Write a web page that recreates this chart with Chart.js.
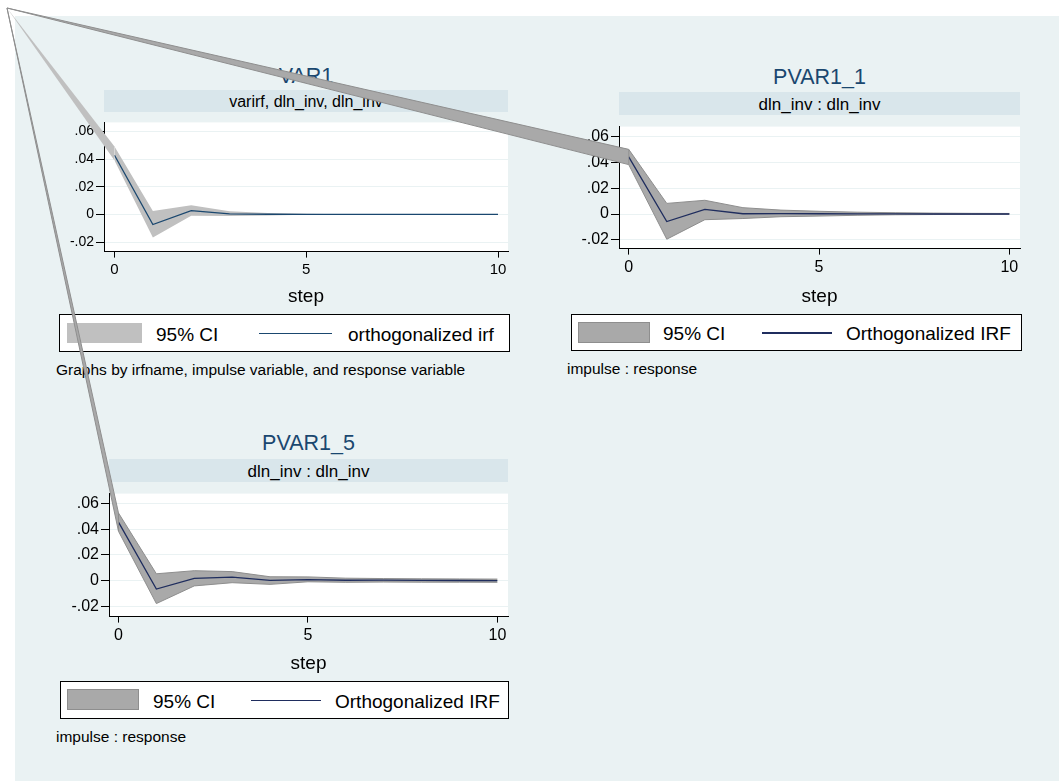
<!DOCTYPE html>
<html><head><meta charset="utf-8">
<script src="https://cdn.jsdelivr.net/npm/chart.js@4.4.1/dist/chart.umd.min.js"></script>
<style>
html,body{margin:0;padding:0;background:#fff;}
#page{position:relative;width:1059px;height:781px;overflow:hidden;font-family:"Liberation Sans",Arial,sans-serif;}
#bg{position:absolute;left:15px;top:16px;right:0;bottom:0;background:#EAF2F3;}
.abs{position:absolute;white-space:nowrap;}
canvas{position:absolute;}
</style></head><body><div id="page"><div id="bg"></div></div>
<script>
// ---------- data ----------
const steps = [0,1,2,3,4,5,6,7,8,9,10];
const xTickValues = [0,5,10];
const yTickValues = [-0.02,0,0.02,0.04,0.06];
const yTickLabels = ['-.02','0','.02','.04','.06'];
const panelTitles = ['VAR1','PVAR1_1','PVAR1_5'];
const panelSubtitles = ['varirf, dln_inv, dln_inv','dln_inv : dln_inv','dln_inv : dln_inv'];
const ciLabels = ['95% CI','95% CI','95% CI'];
const irfLabels = ['orthogonalized irf','Orthogonalized IRF','Orthogonalized IRF'];
const panelNotes = ['Graphs by irfname, impulse variable, and response variable','impulse : response','impulse : response'];
const xAxisTitle = 'step';

const var1Irf   = [0.0427,-0.0073,0.0027,0.0004,0.0001,0,0,0,0,0,0];
const var1Upper = [0.0490, 0.0025,0.0067,0.0022,0.0011,0.0004,0.0002,0.0001,0,0,0];
const var1Lower = [0.0390,-0.0167,-0.0010,-0.0011,-0.0007,-0.0002,-0.0001,0,0,0,0];

const pvar11Irf   = [0.0442,-0.0058,0.0035,0.0002,0.0003,0.0002,0.0001,0.0001,0,0,0];
const pvar11Upper = [0.0500, 0.0082,0.0106,0.0049,0.0030,0.0021,0.0014,0.0010,0.0007,0.0005,0.0004];
const pvar11Lower = [0.0382,-0.0195,-0.0044,-0.0035,-0.0021,-0.0016,-0.0010,-0.0006,-0.0004,-0.0003,-0.0002];

const pvar15Irf   = [0.0455,-0.0064,0.0019,0.0028,0.0003,0.0009,0.0004,0.0005,0.0003,0.0002,0.0001];
const pvar15Upper = [0.0526, 0.0054,0.0078,0.0071,0.0031,0.0030,0.0020,0.0017,0.0015,0.0014,0.0013];
const pvar15Lower = [0.0384,-0.0177,-0.0040,-0.0015,-0.0028,-0.0008,-0.0012,-0.0010,-0.0011,-0.0011,-0.0012];

// ---------- layout / style ----------
const FONT = '"Liberation Sans", Arial, sans-serif';
const page = document.getElementById('page');
const layout = [
  {plotL:104,plotT:112,plotR:508,plotB:252,stripT:90,titleY:77,xMin:-0.274,xMax:10.26,yMin:-0.02687,yMax:0.06647,
   tickGap:3,xAxisH:56.4,xTickSize:15,yTickSize:14,stripSize:16,
   leg:{l:59,t:314,r:510,b:352,sw:[67,142,323,343],ciX:156,line:[259,332],labX:348},noteX:56,noteY:370,
   line:'#1A476F',ciFill:'#C0C0C0',ciBorder:'#C0C0C0',ciBW:0},
  {plotL:619,plotT:115,plotR:1020,plotB:249,stripT:92,titleY:77.5,xMin:-0.255,xMax:10.28,yMin:-0.02676,yMax:0.0676,
   tickGap:3,xAxisH:59.4,xTickSize:16,yTickSize:16,stripSize:17,
   leg:{l:571,t:314,r:1022,b:351,sw:[578,650,322,343],ciX:663,line:[762,832],labX:846},noteX:567,noteY:369,
   line:'#1F2D5E',ciFill:'#A9A9A9',ciBorder:'#8E8E8E',ciBW:1},
  {plotL:109,plotT:482,plotR:508,plotB:617,stripT:459,titleY:444,xMin:-0.25,xMax:10.28,yMin:-0.0278,yMax:0.0676,
   tickGap:3,xAxisH:58.4,xTickSize:16,yTickSize:16,stripSize:17,
   leg:{l:60,t:681,r:509,b:719,sw:[67,139,689,710],ciX:153,line:[251,321],labX:335},noteX:56,noteY:737,
   line:'#1F2D5E',ciFill:'#A9A9A9',ciBorder:'#8E8E8E',ciBW:1}
];
const series = [[var1Irf,var1Upper,var1Lower],[pvar11Irf,pvar11Upper,pvar11Lower],[pvar15Irf,pvar15Upper,pvar15Lower]];

function addText(txt,x,y,size,color,align){
  const d=document.createElement('div');d.className='abs';d.textContent=txt;
  d.style.fontSize=size+'px';d.style.lineHeight='1';d.style.color=color;
  d.style.left=x+'px';d.style.top=y+'px';
  d.style.transform= align==='center'?'translate(-50%,-50%)':'translate(0,-50%)';
  page.appendChild(d);return d;
}
function addBox(l,t,w,h,css){
  const d=document.createElement('div');d.className='abs';
  d.style.left=l+'px';d.style.top=t+'px';d.style.width=w+'px';d.style.height=h+'px';
  d.style.boxSizing='border-box';Object.assign(d.style,css||{});page.appendChild(d);return d;
}

const plotBg={id:'plotBg',beforeDraw(c){const a=c.chartArea,ctx=c.ctx;ctx.save();ctx.fillStyle='#fff';ctx.fillRect(a.left,a.top,a.right-a.left,a.bottom-a.top);ctx.restore();}};

const charts=[];
layout.forEach((L,i)=>{
  // title + strip
  addText(panelTitles[i],(L.plotL+L.plotR)/2,L.titleY,21.5,'#1A476F','center');
  addBox(L.plotL,L.stripT,L.plotR-L.plotL,L.plotT-L.stripT,{background:'#D9E6EB'});
  addText(panelSubtitles[i],(L.plotL+L.plotR)/2,(L.stripT+L.plotT)/2+0.5,L.stripSize,'#000','center');

  const yW=60,padR=12;
  const W=(L.plotR-L.plotL)+yW+padR, H=Math.ceil((L.plotB-L.plotT)+L.xAxisH)+2;
  const cv=document.createElement('canvas');cv.width=W;cv.height=H;
  cv.style.left=(L.plotL-yW)+'px';cv.style.top=L.plotT+'px';cv.style.width=W+'px';cv.style.height=H+'px';
  page.appendChild(cv);
  const [irf,up,lo]=series[i];
  const pts=a=>steps.map((s,k)=>({x:s,y:a[k]}));
  const chart=new Chart(cv,{
    type:'line',
    data:{datasets:[
      {label:irfLabels[i],data:pts(irf),borderColor:L.line,borderWidth:1.3,pointRadius:0,fill:false,tension:0},
      {label:ciLabels[i],data:pts(up),borderColor:L.ciBorder,borderWidth:L.ciBW,backgroundColor:L.ciFill,pointRadius:0,fill:'+1',tension:0},
      {label:ciLabels[i]+' (lower)',data:pts(lo),borderColor:L.ciBorder,borderWidth:L.ciBW,backgroundColor:L.ciFill,pointRadius:0,fill:false,tension:0}
    ]},
    options:{
      responsive:false,animation:false,devicePixelRatio:1,
      layout:{padding:{left:0,right:padR,top:0,bottom:H-Math.round((L.plotB-L.plotT)+L.xAxisH)}},
      plugins:{legend:{display:false},tooltip:{enabled:false},filler:{drawTime:'beforeDatasetsDraw'}},
      scales:{
        x:{type:'linear',min:L.xMin,max:L.xMax,
          afterBuildTicks:s=>{s.ticks=xTickValues.map(v=>({value:v}));},
          afterFit:s=>{s.height=L.xAxisH;},
          ticks:{padding:L.tickGap,color:'#000',font:{family:FONT,size:L.xTickSize,lineHeight:1.2},autoSkip:false,maxRotation:0,callback:v=>String(v)},
          grid:{drawOnChartArea:false,tickLength:6,tickColor:'#000',tickWidth:1},
          border:{color:'#000',width:1},
          title:{display:true,text:xAxisTitle,color:'#000',font:{family:FONT,size:19,lineHeight:1.2},padding:0}},
        y:{min:L.yMin,max:L.yMax,
          afterBuildTicks:s=>{s.ticks=yTickValues.map(v=>({value:v}));},
          afterFit:s=>{s.width=yW;},
          ticks:{padding:2,color:'#000',font:{family:FONT,size:L.yTickSize},
            callback:v=>{const k=yTickValues.findIndex(t=>Math.abs(t-v)<1e-9);return k>=0?yTickLabels[k]:'';}},
          grid:{color:'#EAF2F3',lineWidth:1,tickLength:8,tickColor:'#000',tickWidth:1},
          border:{color:'#000',width:1}}
      }
    },
    plugins:[plotBg]
  });
  charts.push({chart,cv,L,up,lo});

  // legend
  const g=L.leg, cy=(g.t+g.b)/2+0.5;
  addBox(g.l,g.t,g.r-g.l,g.b-g.t,{border:'1px solid #000',background:'#fff'});
  addBox(g.sw[0],g.sw[2],g.sw[1]-g.sw[0],g.sw[3]-g.sw[2],{background:L.ciFill,border:L.ciBW?('1px solid '+L.ciBorder):'none'});
  addText(ciLabels[i],g.ciX,cy,19,'#000','left');
  addBox(g.line[0],cy-0.75,g.line[1]-g.line[0],1.5,{background:L.line});
  addText(irfLabels[i],g.labX,cy,19,'#000','left');
  // note
  addText(panelNotes[i],L.noteX,L.noteY,15.5,'#000','left');
});

// overlay: the CI polygons' stray first vertex at the graph origin (as in the reference rendering)
const ov=document.createElement('canvas');ov.width=1059;ov.height=781;
ov.style.left='0px';ov.style.top='0px';ov.style.zIndex='10';ov.style.pointerEvents='none';
page.appendChild(ov);
const octx=ov.getContext('2d');
const apex=[7,8];
charts.forEach(({chart,cv,L,up,lo})=>{
  const ox=parseFloat(cv.style.left),oy=parseFloat(cv.style.top);
  const xs=chart.scales.x, ys=chart.scales.y;
  const x0=ox+xs.getPixelForValue(steps[0]);
  const yu=oy+ys.getPixelForValue(up[0]), yl=oy+ys.getPixelForValue(lo[0]);
  octx.beginPath();octx.moveTo(apex[0],apex[1]);octx.lineTo(x0,yu);octx.lineTo(x0,yl);octx.closePath();
  octx.fillStyle=L.ciFill;octx.fill();
  if(L.ciBW){octx.strokeStyle=L.ciBorder;octx.lineWidth=1;octx.stroke();}
});
</script></body></html>
